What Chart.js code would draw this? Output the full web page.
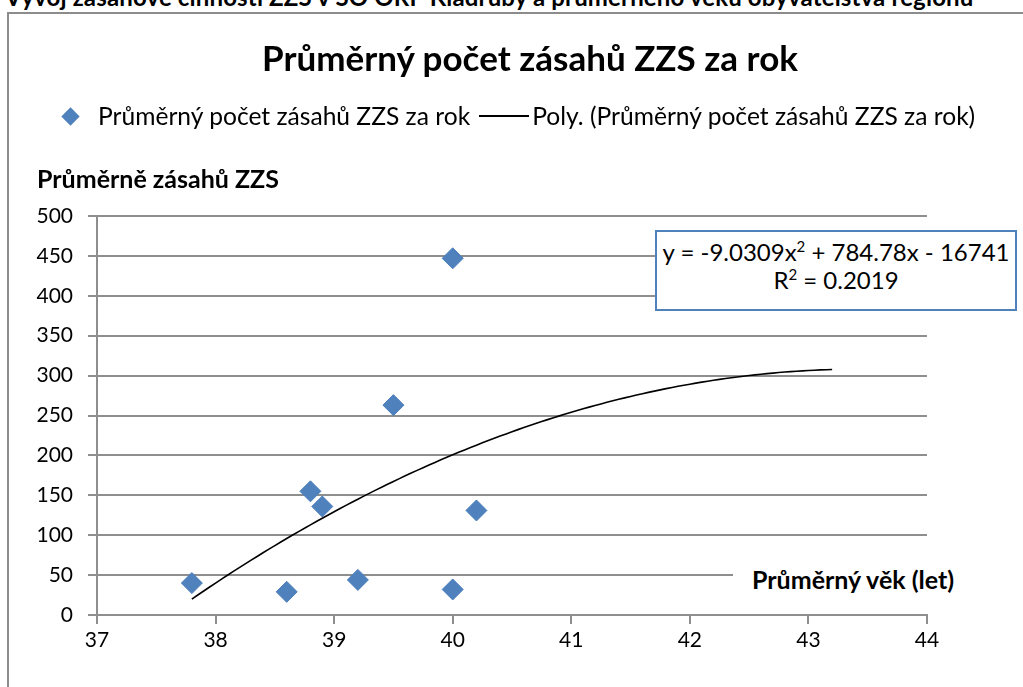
<!DOCTYPE html>
<html lang="cs">
<head>
<meta charset="UTF-8">
<title>Průměrný počet zásahů ZZS za rok</title>
<script src="https://cdn.jsdelivr.net/npm/chart.js"></script>
<style>
  html, body { margin: 0; padding: 0; background: #fff; }
  body { width: 1023px; height: 687px; overflow: hidden; position: relative; font-family: Lato, sans-serif; color: #000; }
  .abs { position: absolute; white-space: nowrap; }
  #heading { left: 5px; top: -15px; font: bold 24px/24px Lato, sans-serif; letter-spacing: 0.15px; }
  #frame { left: 7px; top: 12px; width: 1100px; height: 800px; border: 2px solid #8c8c8c; }
  #chart { position: absolute; left: 0; top: 0; }
  #title { left: 0; width: 1060px; top: 36px; text-align: center; font: bold 35px/42px Lato, sans-serif; }
  #legend { left: 60px; top: 102px; font: 24.6px/28px Lato, sans-serif; display: flex; align-items: center; }
  .diamond { display: inline-block; width: 13px; height: 13px; background: #4f81bd; transform: rotate(45deg); margin: 0 21px 0 4px; }
  .lline { display: inline-block; width: 50px; border-top: 2px solid #000; margin: 0 3px 0 9px; }
  #ytitle { left: 37px; top: 163px; font: bold 25px/30px Lato, sans-serif; }
  #xtitle { left: 733px; top: 562px; padding: 0 0 0 19px; width: 215px; height: 34px; background: #fff; font: bold 25px/34px Lato, sans-serif; }
  #eq { left: 655px; top: 230px; width: 358px; height: 71px; border: 2px solid #4f81bd; background: #fff; text-align: center; font: 24px/28px Lato, sans-serif; padding-top: 6px; box-sizing: content-box; }
  #eq sup { font-size: 15px; line-height: 0; vertical-align: 9px; }
</style>
</head>
<body>
<div class="abs" id="heading">Vývoj zásahové činnosti ZZS v SO ORP Kladruby a průměrného věku obyvatelstva regionu</div>
<div class="abs" id="frame"></div>
<canvas id="chart" width="1023" height="687"></canvas>
<div class="abs" id="title">Průměrný počet zásahů ZZS za rok</div>
<div class="abs" id="legend">
  <span class="diamond"></span><span>Průměrný počet zásahů ZZS za rok</span>
  <span class="lline"></span><span>Poly. (Průměrný počet zásahů ZZS za rok)</span>
</div>
<div class="abs" id="ytitle">Průměrně zásahů ZZS</div>
<div class="abs" id="xtitle">Průměrný věk (let)</div>
<div class="abs" id="eq">y = -9.0309x<sup>2</sup> + 784.78x - 16741<br>R<sup>2</sup> = 0.2019</div>
<script>
// průměrný věk obyvatel (let) a průměrný počet zásahů za rok
const vek = [37.8, 38.6, 38.8, 38.9, 39.2, 39.5, 40.0, 40.0, 40.2];
const zasahy = [40, 29, 155, 136, 44, 263, 447, 32, 131];

// polynom 2. stupně: y = a*x^2 + b*x + c, prodloužený o 3 roky dopředu
const polyKoef = [-9.0309, 784.78, -16741];
const trendDopredu = 3;

const xTicks = [37, 38, 39, 40, 41, 42, 43, 44];
const yTicks = [0, 50, 100, 150, 200, 250, 300, 350, 400, 450, 500];

const body = vek.map((x, i) => ({ x: x, y: zasahy[i] }));

const xOd = Math.min(...vek);
const xDo = Math.max(...vek) + trendDopredu;
const trend = [];
for (let x = xOd; x <= xDo + 1e-9; x += 0.05) {
  trend.push({ x: x, y: polyKoef[0] * x * x + polyKoef[1] * x + polyKoef[2] });
}

const gridColor = '#8e8e8e';
const tickFont = { family: 'Lato', size: 21 };

new Chart(document.getElementById('chart'), {
  type: 'scatter',
  data: {
    datasets: [
      {
        label: 'Poly. (Průměrný počet zásahů ZZS za rok)',
        data: trend,
        showLine: true,
        borderColor: '#000',
        borderWidth: 1.6,
        pointRadius: 0,
        tension: 0,
        order: 0
      },
      {
        label: 'Průměrný počet zásahů ZZS za rok',
        data: body,
        pointStyle: 'rectRot',
        pointRadius: 10.5,
        backgroundColor: '#4f81bd',
        borderColor: '#4a7ebb',
        borderWidth: 1,
        order: 1
      }
    ]
  },
  options: {
    responsive: false,
    animation: false,
    layout: { padding: { top: 216, right: 96, bottom: 0, left: 0 } },
    plugins: { legend: { display: false }, title: { display: false }, tooltip: { enabled: false } },
    scales: {
      x: {
        type: 'linear',
        min: xTicks[0],
        max: xTicks[xTicks.length - 1],
        afterBuildTicks: s => { s.ticks = xTicks.map(v => ({ value: v })); },
        afterFit: s => { s.height = 72; },
        ticks: { color: '#000', font: tickFont, padding: 4 },
        grid: { drawOnChartArea: false, drawTicks: true, tickLength: 9, color: gridColor, lineWidth: 2 },
        border: { color: gridColor, width: 2 }
      },
      y: {
        min: yTicks[0],
        max: yTicks[yTicks.length - 1],
        afterBuildTicks: s => { s.ticks = yTicks.map(v => ({ value: v })); },
        afterFit: s => { s.width = 97; },
        ticks: { color: '#000', font: tickFont, padding: 15 },
        grid: { color: gridColor, lineWidth: 2, tickLength: 9 },
        border: { color: gridColor, width: 2 }
      }
    }
  }
});
</script>
</body>
</html>
